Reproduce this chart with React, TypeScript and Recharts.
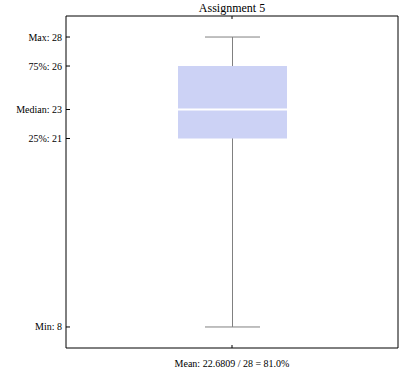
import { ComposedChart, Bar, XAxis, YAxis } from "recharts"

const categories = ["Assignment 5"]
const minValues = [8]
const q1Values = [21]
const medianValues = [23]
const q3Values = [26]
const maxValues = [28]
const yTicks = [8, 21, 23, 26, 28]
const yTickLabels = ["Min: 8", "25%: 21", "Median: 23", "75%: 26", "Max: 28"]
const meanScore = 22.6809
const maxScore = 28

const data = categories.map((name, i) => ({
  name,
  whisker: [minValues[i], maxValues[i]],
  box: [q1Values[i], q3Values[i]],
  q1: q1Values[i],
  median: medianValues[i],
  q3: q3Values[i],
}))

const meanText = `Mean: ${meanScore} / ${maxScore} = ${((meanScore / maxScore) * 100).toFixed(1)}%`
const font = "'Liberation Serif', 'DejaVu Serif', serif"

function WhiskerShape(props: any) {
  const { x, y, width, height } = props
  const top = Math.min(y, y + height)
  const bottom = Math.max(y, y + height)
  const cx = x + width / 2
  return (
    <g stroke="#808080" strokeWidth={1}>
      <line x1={cx} x2={cx} y1={top} y2={bottom} />
      <line x1={x} x2={x + width} y1={top} y2={top} />
      <line x1={x} x2={x + width} y1={bottom} y2={bottom} />
    </g>
  )
}

function BoxShape(props: any) {
  const { x, y, width, height, payload } = props
  const top = Math.min(y, y + height)
  const h = Math.abs(height)
  const my = top + (h * (payload.q3 - payload.median)) / (payload.q3 - payload.q1)
  return (
    <g>
      <rect x={x} y={top} width={width} height={h} fill="#ccd2f5" />
      <line x1={x} x2={x + width} y1={my} y2={my} stroke="#ffffff" strokeWidth={2} />
    </g>
  )
}

// y tick: label to the left of the axis, tick mark pointing into the plot
function YTick(props: any) {
  const { x, y, payload } = props
  const label = yTickLabels[yTicks.indexOf(payload.value)]
  return (
    <g>
      <line x1={x + 4} x2={x + 8} y1={y} y2={y} stroke="#000" />
      <text x={x} y={y} dy={3.5} textAnchor="end" fontSize={10} fill="#000" fontFamily={font}>
        {label}
      </text>
    </g>
  )
}

export default function App() {
  return (
    <div style={{ position: "absolute", left: 0, top: 0, width: 400, height: 370, background: "#fff" }}>
      <ComposedChart width={400} height={370} data={data} margin={{ top: 15, right: 1, bottom: 0, left: 6 }}>
        <XAxis
          xAxisId="bottom"
          dataKey="name"
          orientation="bottom"
          height={22}
          tickSize={-3}
          tickFormatter={() => ""}
          axisLine={{ stroke: "#000" }}
          tickLine={{ stroke: "#000" }}
          label={{ value: meanText, position: "insideBottom", offset: 3, fontSize: 10, fill: "#000", fontFamily: font }}
        />
        <XAxis
          xAxisId="top"
          dataKey="name"
          orientation="top"
          height={1}
          tickSize={-3}
          tickFormatter={() => ""}
          axisLine={{ stroke: "#000" }}
          tickLine={{ stroke: "#000" }}
          label={{ value: "Assignment 5", position: "top", offset: 3, fontSize: 12, fill: "#000", fontFamily: font }}
        />
        <YAxis
          yAxisId="left"
          type="number"
          domain={[6.55, 29.45]}
          ticks={yTicks}
          width={60}
          tickSize={0}
          tickMargin={4}
          interval={0}
          tick={YTick}
          tickLine={false}
          axisLine={{ stroke: "#000" }}
        />
        <YAxis
          yAxisId="right"
          orientation="right"
          type="number"
          domain={[6.55, 29.45]}
          width={1}
          tick={false}
          tickLine={false}
          axisLine={{ stroke: "#000" }}
        />
        <Bar
          xAxisId="bottom"
          yAxisId="left"
          dataKey="whisker"
          barSize={55}
          shape={WhiskerShape}
          isAnimationActive={false}
        />
        <Bar
          xAxisId="top"
          yAxisId="right"
          dataKey="box"
          barSize={109}
          shape={BoxShape}
          isAnimationActive={false}
        />
      </ComposedChart>
    </div>
  )
}
